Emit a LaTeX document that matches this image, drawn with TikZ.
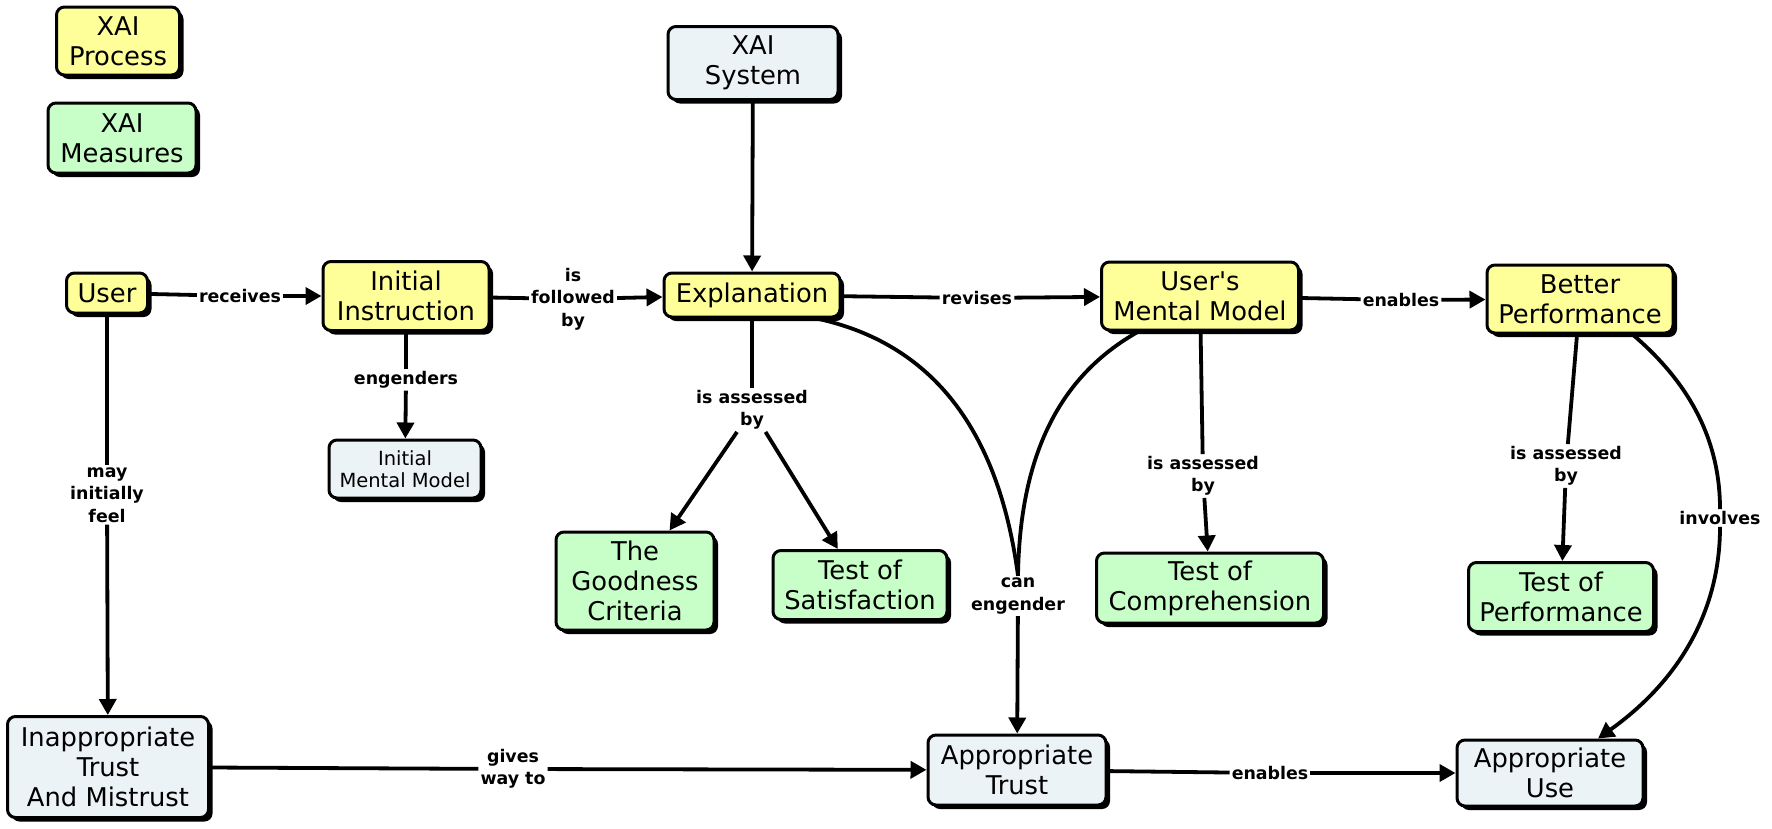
\documentclass[tikz,border=0pt]{standalone}
\usepackage{fontspec}
\setmainfont{DejaVu Sans}
\usetikzlibrary{arrows.meta,shadows}
\definecolor{procY}{RGB}{255,255,153}
\definecolor{measG}{RGB}{200,255,200}
\definecolor{plainB}{RGB}{236,243,246}
\tikzset{
  concept/.style={draw=black, line width=3pt, rounded corners=8pt, align=center,
    inner sep=0pt, font=\fontsize{25.8}{30}\selectfont,
    drop shadow={shadow xshift=4pt, shadow yshift=-4pt, fill=black, opacity=1}},
  proc/.style={concept, fill=procY},
  meas/.style={concept, fill=measG},
  plainc/.style={concept, fill=plainB},
  sz/.style 2 args={minimum width=#1pt, minimum height=#2pt},
  lab/.style={align=center, inner sep=2pt, font=\fontsize{17.4}{22.5}\selectfont\bfseries},
  conn/.style={line width=3.8pt},
  arr/.style={conn, -{Triangle[length=16pt,width=17pt]}},
}
\begin{document}
\begin{tikzpicture}[x=1pt,y=-1pt]
\useasboundingbox (0,0) rectangle (1772,828);

% concepts
\node[proc, sz={123}{68}] (xp) at (118,41) {XAI\\Process};
\node[meas, sz={148}{70}] (xm) at (122,138) {XAI\\Measures};
\node[plainc, sz={170}{73}] (xs) at (753,63) {XAI\\System};
\node[proc, sz={81}{40}] (user) at (107,293) {User};
\node[proc, sz={166}{69}] (ii) at (406,296) {Initial\\Instruction};
\node[plainc, sz={152}{58}, font=\fontsize{19.5}{22}\selectfont] (imm) at (405,469) {Initial\\Mental Model};
\node[proc, sz={176}{44}] (ex) at (752,295) {Explanation};
\node[proc, sz={197}{68}] (umm) at (1200,296) {User\textquotesingle s\\Mental Model};
\node[proc, sz={186}{68}] (bp) at (1580,299) {Better\\Performance};
\node[meas, sz={158}{98}] (gc) at (635,581) {The\\Goodness\\Criteria};
\node[meas, sz={174}{69}] (ts) at (860,585) {Test of\\Satisfaction};
\node[meas, sz={227}{70}] (tc) at (1210,588) {Test of\\Comprehension};
\node[meas, sz={185}{69}] (tp) at (1561,597) {Test of\\Performance};
\node[plainc, sz={201}{101}] (itm) at (108,767) {Inappropriate\\Trust\\And Mistrust};
\node[plainc, sz={178}{70}] (at) at (1017,770) {Appropriate\\Trust};
\node[plainc, sz={186}{66}] (au) at (1550,773) {Appropriate\\Use};

% linking phrases
\node[lab] (recv) at (240,296) {receives};
\node[lab] (fol) at (573,299) {is\\followed\\by};
\node[lab] (eng) at (406,380) {engenders};
\node[lab] (may) at (107,495) {may\\initially\\feel};
\node[lab] (rev) at (977,298) {revises};
\node[lab] (en1) at (1401,300) {enables};
\node[lab] (ia1) at (752,410) {is assessed\\by};
\node[lab] (ia2) at (1203,476) {is assessed\\by};
\node[lab] (ia3) at (1566,466) {is assessed\\by};
\node[lab] (can) at (1018,596) {can\\engender};
\node[lab] (inv) at (1720,518) {involves};
\node[lab] (give) at (513,769) {gives\\way to};
\node[lab] (en2) at (1270,773) {enables};

% connectors
\draw[conn] (user) -- (recv);
\draw[arr] (recv) -- (ii);
\draw[conn] (ii) -- (fol);
\draw[arr] (fol) -- (ex);
\draw[conn] (ii) -- (eng);
\draw[arr] (eng) -- (imm);
\draw[conn] (user) -- (may);
\draw[arr] (may) -- (itm);
\draw[arr] (xs) -- (ex);
\draw[conn] (ex) -- (rev);
\draw[arr] (rev) -- (umm);
\draw[conn] (umm) -- (en1);
\draw[arr] (en1) -- (bp);
\draw[conn] (ex) -- (ia1);
\draw[arr] (ia1) -- (gc);
\draw[arr] (ia1) -- (ts);
\draw[conn] (umm) -- (ia2);
\draw[arr] (ia2) -- (tc);
\draw[conn] (bp) -- (ia3);
\draw[arr] (ia3) -- (tp);
\draw[conn] (ex.-20) .. controls (940,345) and (1000,440) .. (can.north);
\draw[conn] (umm.-150) .. controls (1070,370) and (1020,440) .. (can.north);
\draw[arr] (can) -- (at);
\draw[conn] (bp.-34) .. controls (1680,375) and (1720,430) .. (inv.north);
\draw[arr] (inv.south) .. controls (1720,610) and (1680,680) .. ([xshift=48pt]au.north);
\draw[conn] (itm) -- (give);
\draw[arr] (give) -- (at);
\draw[conn] (at) -- (en2);
\draw[arr] (en2) -- (au);
\end{tikzpicture}
\end{document}
